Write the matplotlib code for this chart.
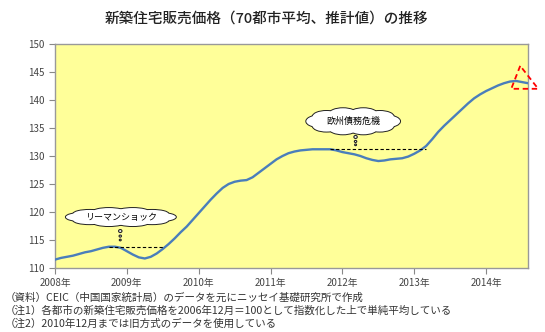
"""
New home price index chart (70-city average, estimated) - recreation.
"""

import matplotlib
matplotlib.use('Agg')
import matplotlib.pyplot as plt
from matplotlib.patches import Ellipse, Polygon
import numpy as np

plt.rcParams['font.family'] = ['Noto Sans CJK JP', 'DejaVu Sans']

# Monthly index, Jan 2008 .. Aug 2014
prices = [
    111.5, 111.8, 112.0, 112.2, 112.5, 112.8, 113.0, 113.3, 113.6, 113.8, 113.8, 113.6,   # 2008
    113.0, 112.4, 111.9, 111.7, 112.0, 112.6, 113.4, 114.3, 115.3, 116.4, 117.4, 118.6,   # 2009
    119.8, 121.0, 122.2, 123.3, 124.3, 125.0, 125.4, 125.6, 125.7, 126.2, 127.0, 127.8,   # 2010
    128.6, 129.4, 130.0, 130.5, 130.8, 131.0, 131.1, 131.2, 131.2, 131.2, 131.2, 131.0,   # 2011
    130.7, 130.5, 130.3, 130.0, 129.6, 129.3, 129.1, 129.2, 129.4, 129.5, 129.6, 129.9,   # 2012
    130.4, 131.0, 131.8, 133.0, 134.3, 135.4, 136.4, 137.4, 138.4, 139.4, 140.3, 141.0,   # 2013
    141.6, 142.1, 142.6, 143.0, 143.3, 143.4, 143.2, 143.0,                               # 2014
]
years = ['2008年', '2009年', '2010年', '2011年', '2012年', '2013年', '2014年']
lehman_span = (9, 18)      # months for the dashed reference line
euro_span = (46, 62)

title = '新築住宅販売価格（70都市平均、推計値）の推移'
notes = [
    '（資料）CEIC（中国国家統計局）のデータを元にニッセイ基礎研究所で作成',
    '（注1）各都市の新築住宅販売価格を2006年12月＝100として指数化した上で単純平均している',
    '（注2）2010年12月までは旧方式のデータを使用している',
]


def cloud(ax, cx, cy, w, h, label):
    # bumps around an ellipse, outlined, then filled white over the inside
    n = 10
    ang = np.linspace(0, 2 * np.pi, n, endpoint=False)
    bx = cx + 0.38 * w * np.cos(ang)
    by = cy + 0.32 * h * np.sin(ang)
    bw, bh = w * 0.32, h * 0.5
    for x, y in zip(bx, by):
        ax.add_patch(Ellipse((x, y), bw, bh, facecolor='white', edgecolor='#222222',
                             lw=1.4, zorder=5, clip_on=False))
    for x, y in zip(bx, by):
        ax.add_patch(Ellipse((x, y), bw, bh, facecolor='white', edgecolor='none',
                             zorder=6, clip_on=False))
    ax.add_patch(Ellipse((cx, cy), w * 0.8, h * 0.7, facecolor='white', edgecolor='none',
                         zorder=6))
    ax.text(cx, cy, label, ha='center', va='center', fontsize=6.5, zorder=7)


fig = plt.figure(figsize=(5.45, 3.32), dpi=100)
ax = fig.add_axes([55 / 545, 1 - 268 / 332, 473 / 545, 224 / 332])
ax.set_facecolor('#FFFF99')

x = np.arange(len(prices))
ax.plot(x, prices, color='#4A7EBB', lw=1.7, zorder=3)

# reference lines from the peaks
ax.plot(lehman_span, [prices[lehman_span[0]]] * 2, color='black', ls=(0, (3, 2)), lw=0.8, zorder=4)
ax.plot(euro_span, [prices[euro_span[0]]] * 2, color='black', ls=(0, (3, 2)), lw=0.8, zorder=4)

cloud(ax, 11.0, 119.1, 17.0, 2.9, 'リーマンショック')
for yy, r in [(116.6, 0.35), (115.7, 0.25), (115.0, 0.2)]:
    ax.add_patch(Ellipse((10.9, yy), r * 1.6, r * 1.5, facecolor='white', edgecolor='#222222', lw=0.8, zorder=5))

cloud(ax, 49.8, 136.2, 14.5, 4.2, '欧州債務危機')
for yy, r in [(133.4, 0.35), (132.6, 0.25), (132.0, 0.2)]:
    ax.add_patch(Ellipse((50.2, yy), r * 1.6, r * 1.5, facecolor='white', edgecolor='#222222', lw=0.8, zorder=5))

# estimate marker
ax.add_patch(Polygon([[77.7, 146.1], [76.2, 142.0], [80.7, 142.0]], closed=True, fill=False,
                     edgecolor='red', ls=(0, (3, 2)), lw=1.3, zorder=8, clip_on=False))

ax.set_xlim(0, len(prices) - 1)
ax.set_ylim(110, 150)
ax.set_yticks(np.arange(110, 151, 5))
ax.set_xticks(np.arange(0, len(prices), 12))
ax.set_xticklabels(years)
ax.tick_params(axis='both', labelsize=7, colors='#888888', labelcolor='#444444', length=4, direction='out')
for s in ax.spines.values():
    s.set_color('#999999')
    s.set_linewidth(1.0)

fig.text(266 / 545, 1 - 19 / 332, title, ha='center', va='center', fontsize=10.5,
         fontweight='medium', color='#222222')
for i, line in enumerate(notes):
    fig.text(5 / 545, 1 - (298 + 13 * i) / 332, line, ha='left', va='center', fontsize=7.6, color='#333333')

fig.savefig('out.png', dpi=100)
